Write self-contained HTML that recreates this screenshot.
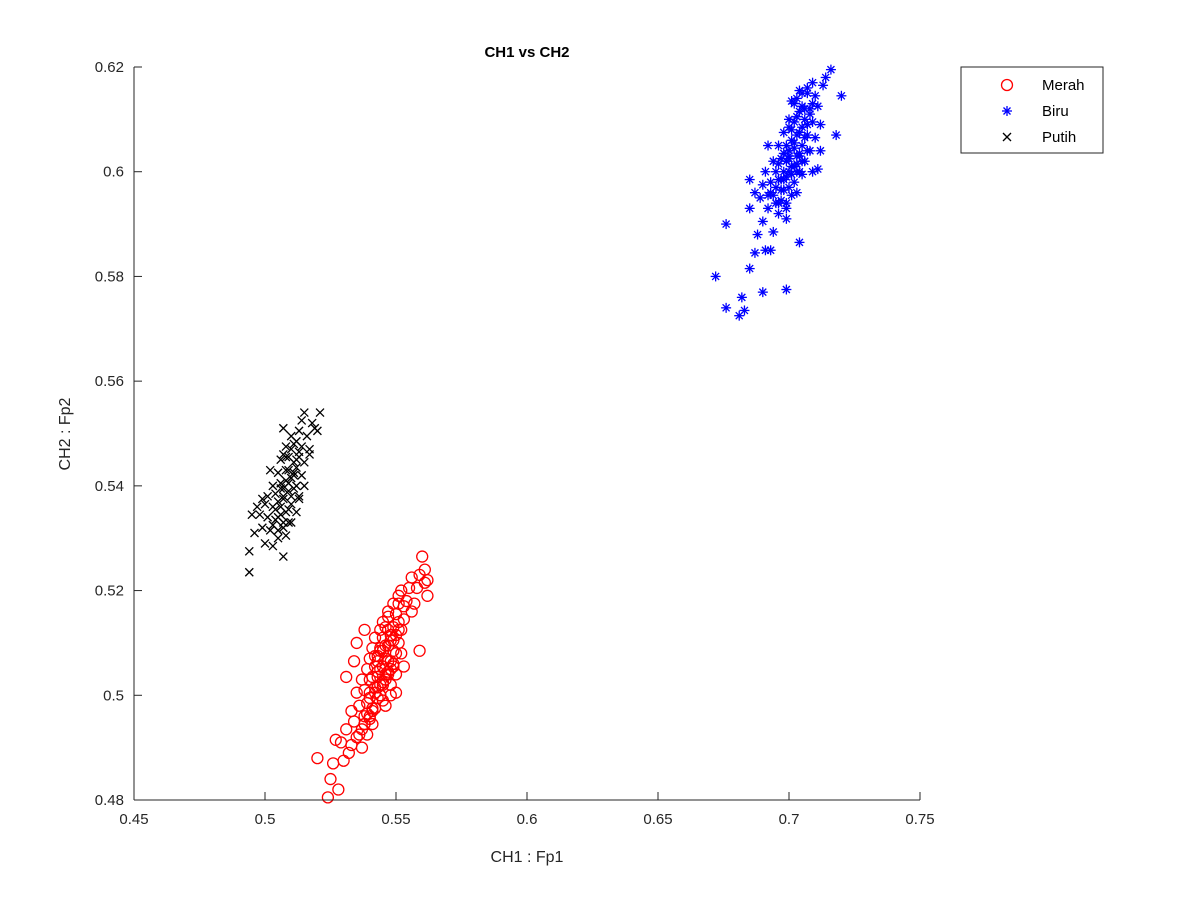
<!DOCTYPE html>
<html><head><meta charset="utf-8"><style>
html,body{margin:0;padding:0;background:#fff;}
svg{display:block;font-family:"Liberation Sans",Arial,sans-serif;}
</style></head><body>
<svg id="chart" width="1200" height="900" viewBox="0 0 1200 900" xmlns="http://www.w3.org/2000/svg">
<rect width="1200" height="900" fill="#fff"/>
<g id="plot"></g>
<g id="axes"></g>
<text x="527" y="57" text-anchor="middle" font-size="15" font-weight="bold" fill="#000">CH1 vs CH2</text>
<text x="527" y="862" text-anchor="middle" font-size="16" fill="#262626">CH1 : Fp1</text>
<text transform="translate(70,434) rotate(-90)" text-anchor="middle" font-size="16" fill="#262626">CH2 : Fp2</text>
<g>
<rect x="961" y="67" width="142" height="86" fill="#fff" stroke="#262626" stroke-width="1"/>
<circle cx="1007" cy="85" r="5.5" fill="none" stroke="#f00" stroke-width="1.3"/>
<text x="1042" y="90" font-size="15" fill="#000">Merah</text>
<g stroke="#00f" stroke-width="1.3"><line x1="1002" y1="111" x2="1012" y2="111"/><line x1="1007" y1="106" x2="1007" y2="116"/><line x1="1003.5" y1="107.5" x2="1010.5" y2="114.5"/><line x1="1003.5" y1="114.5" x2="1010.5" y2="107.5"/></g>
<text x="1042" y="116" font-size="15" fill="#000">Biru</text>
<g stroke="#000" stroke-width="1.3"><line x1="1003" y1="133" x2="1011" y2="141"/><line x1="1003" y1="141" x2="1011" y2="133"/></g>
<text x="1042" y="142" font-size="15" fill="#000">Putih</text>
</g>
</svg>
<script>
const xTicks=[0.45,0.5,0.55,0.6,0.65,0.7,0.75];
const xTickLabels=["0.45","0.5","0.55","0.6","0.65","0.7","0.75"];
const yTicks=[0.48,0.5,0.52,0.54,0.56,0.58,0.6,0.62];
const yTickLabels=["0.48","0.5","0.52","0.54","0.56","0.58","0.6","0.62"];
const merahX=[0.524,0.528,0.525,0.520,0.526,0.530,0.532,0.529,0.533,0.535,0.531,0.534,0.537,0.538,0.533,0.536,0.539,0.541,0.535,0.538,0.540,0.542,0.531,0.537,0.540,0.543,0.545,0.539,0.542,0.544,0.547,0.534,0.540,0.543,0.546,0.549,0.541,0.544,0.547,0.550,0.535,0.542,0.545,0.548,0.551,0.538,0.546,0.549,0.552,0.547,0.550,0.553,0.556,0.551,0.554,0.557,0.552,0.555,0.558,0.561,0.556,0.559,0.562,0.560,0.561,0.562,0.559,0.546,0.550,0.553,0.548,0.544,0.541,0.539,0.537,0.527,0.543,0.545,0.547,0.549,0.544,0.548,0.551,
0.541,0.543,0.545,0.547,0.549,0.542,0.544,0.546,0.548,0.550,0.543,0.545,0.547,0.549,0.551,0.540,0.542,0.544,0.546,0.548,0.539,0.541,0.543,0.545,0.538,0.540,0.542,0.544,0.546,0.548,0.550,0.552,0.545,0.547,0.549,0.551,0.553,0.536,0.538,0.540];
const merahY=[0.4805,0.482,0.484,0.488,0.487,0.4875,0.489,0.491,0.4905,0.492,0.4935,0.495,0.4935,0.496,0.497,0.498,0.4985,0.497,0.5005,0.501,0.5005,0.5015,0.5035,0.503,0.503,0.5035,0.502,0.505,0.5055,0.505,0.504,0.5065,0.507,0.5075,0.507,0.5055,0.509,0.509,0.5095,0.508,0.510,0.511,0.511,0.5115,0.510,0.5125,0.513,0.513,0.5125,0.515,0.5155,0.5145,0.516,0.5175,0.518,0.5175,0.520,0.5205,0.5205,0.5215,0.5225,0.523,0.522,0.5265,0.524,0.519,0.5085,0.498,0.5005,0.5055,0.502,0.500,0.4945,0.4925,0.490,0.4915,0.5065,0.5085,0.5125,0.5105,0.5125,0.5065,0.514,
0.5035,0.5045,0.5055,0.5065,0.5085,0.5075,0.5085,0.5095,0.5105,0.5115,0.5015,0.5025,0.5045,0.5060,0.5125,0.4995,0.5005,0.5020,0.5040,0.5050,0.4965,0.4975,0.4995,0.4990,0.4945,0.4955,0.4975,0.5000,0.5030,0.5000,0.5040,0.5080,0.5140,0.5160,0.5175,0.5190,0.5170,0.4925,0.4945,0.4960];
const biruX=[0.681,0.683,0.676,0.682,0.690,0.699,0.672,0.685,0.687,0.691,0.693,0.704,0.676,0.688,0.690,0.694,0.685,0.692,0.696,0.699,0.687,0.690,0.693,0.697,0.700,0.703,0.685,0.691,0.695,0.698,0.701,0.704,0.694,0.697,0.700,0.703,0.706,0.709,0.692,0.696,0.699,0.702,0.705,0.708,0.698,0.701,0.704,0.707,0.710,0.700,0.703,0.706,0.709,0.712,0.702,0.705,0.708,0.711,0.704,0.707,0.710,0.713,0.714,0.716,0.709,0.720,0.718,0.712,0.711,0.693,0.696,0.699,0.702,0.700,0.698,0.689,0.695,
0.697,0.699,0.701,0.703,0.705,0.696,0.698,0.700,0.702,0.704,0.706,0.699,0.701,0.703,0.705,0.707,0.700,0.702,0.704,0.706,0.708,0.701,0.703,0.705,0.707,0.709,0.694,0.696,0.698,0.700,0.702,0.704,0.703,0.705,0.707,0.695,0.697,0.699,0.701,0.692];
const biruY=[0.5725,0.5735,0.574,0.576,0.577,0.5775,0.580,0.5815,0.5845,0.585,0.585,0.5865,0.590,0.588,0.5905,0.5885,0.593,0.593,0.592,0.594,0.596,0.5975,0.596,0.5965,0.597,0.596,0.5985,0.600,0.600,0.600,0.5995,0.600,0.602,0.6025,0.6025,0.603,0.602,0.600,0.605,0.605,0.605,0.6055,0.605,0.604,0.6075,0.608,0.6075,0.607,0.6065,0.610,0.6105,0.610,0.6095,0.609,0.613,0.6125,0.612,0.6125,0.6155,0.615,0.6145,0.6165,0.618,0.6195,0.617,0.6145,0.607,0.604,0.6005,0.598,0.594,0.591,0.598,0.603,0.5965,0.595,0.597,
0.5985,0.5990,0.6010,0.6015,0.6020,0.6015,0.6035,0.6040,0.6045,0.6035,0.6065,0.6020,0.6060,0.6070,0.6085,0.6090,0.6085,0.6095,0.6115,0.6120,0.6110,0.6135,0.6140,0.6150,0.6160,0.6130,0.5955,0.5985,0.5985,0.6000,0.6010,0.6030,0.6000,0.5995,0.6040,0.5940,0.5945,0.5930,0.5955,0.5955];
const putihX=[0.494,0.494,0.507,0.500,0.503,0.496,0.499,0.502,0.505,0.508,0.495,0.498,0.501,0.504,0.507,0.510,0.497,0.500,0.503,0.506,0.509,0.512,0.501,0.504,0.507,0.510,0.513,0.503,0.506,0.509,0.512,0.505,0.508,0.511,0.514,0.506,0.509,0.512,0.515,0.508,0.511,0.514,0.517,0.510,0.513,0.516,0.519,0.507,0.514,0.518,0.521,0.515,0.520,0.517,0.515,0.513,0.507,0.502,0.499,0.505,
0.505,0.507,0.509,0.511,0.506,0.508,0.510,0.512,0.504,0.506,0.508,0.510,0.507,0.509,0.511,0.513,0.508,0.510,0.512,0.503,0.505,0.507,0.509,0.511,0.513];
const putihY=[0.5235,0.5275,0.5265,0.529,0.5285,0.531,0.532,0.5315,0.530,0.5305,0.5345,0.5345,0.534,0.5335,0.533,0.533,0.536,0.5365,0.536,0.536,0.5355,0.535,0.538,0.5385,0.538,0.538,0.5375,0.540,0.5405,0.5405,0.540,0.5425,0.543,0.5425,0.542,0.545,0.5455,0.545,0.5445,0.5475,0.548,0.5475,0.547,0.5495,0.5505,0.5495,0.551,0.551,0.5525,0.552,0.554,0.554,0.5505,0.546,0.540,0.538,0.546,0.543,0.5375,0.534,
0.5370,0.5375,0.5390,0.5395,0.5395,0.5410,0.5415,0.5435,0.5355,0.5345,0.5350,0.5365,0.5395,0.5430,0.5445,0.5455,0.5455,0.5470,0.5485,0.5325,0.5315,0.5320,0.5330,0.5420,0.5465];

const NS="http://www.w3.org/2000/svg";
const X0=134,X1=920,Y0=800,Y1=67;
const xs=v=>X0+(v-0.45)/(0.75-0.45)*(X1-X0);
const ys=v=>Y0-(v-0.48)/(0.62-0.48)*(Y0-Y1);
function mk(tag,attrs,parent){const e=document.createElementNS(NS,tag);for(const k in attrs)e.setAttribute(k,attrs[k]);parent.appendChild(e);return e;}
const plot=document.getElementById('plot'),axes=document.getElementById('axes');

let ax=mk('line',{x1:X0,y1:Y0,x2:X1,y2:Y0,stroke:'#262626','stroke-width':1},axes);


let ay=mk('line',{x1:X0,y1:Y0,x2:X0,y2:Y1,stroke:'#262626','stroke-width':1},axes);


xTicks.forEach((t,i)=>{const x=xs(t);
 const l=mk('line',{x1:x,y1:Y0,x2:x,y2:Y0-8,stroke:'#262626'},axes);
 
 
 const tx=mk('text',{x:x,y:Y0+24,'text-anchor':'middle','font-size':15,fill:'#262626'},axes);tx.textContent=xTickLabels[i];
 
 
});
yTicks.forEach((t,i)=>{const y=ys(t);
 const l=mk('line',{x1:X0,y1:y,x2:X0+8,y2:y,stroke:'#262626'},axes);
 
 
 const tx=mk('text',{x:X0-10,y:y+5,'text-anchor':'end','font-size':15,fill:'#262626'},axes);tx.textContent=yTickLabels[i];
 
 
});
merahX.forEach((v,i)=>{const c=mk('circle',{cx:xs(v),cy:ys(merahY[i]),r:5.5,fill:'none',stroke:'#f00','stroke-width':1.3},plot);
 
 
});
biruX.forEach((v,i)=>{const x=xs(v),y=ys(biruY[i]);const g=mk('g',{stroke:'#00f','stroke-width':1.3},plot);
 
 
 mk('line',{x1:x-5,y1:y,x2:x+5,y2:y},g);mk('line',{x1:x,y1:y-5,x2:x,y2:y+5},g);
 mk('line',{x1:x-3.5,y1:y-3.5,x2:x+3.5,y2:y+3.5},g);mk('line',{x1:x-3.5,y1:y+3.5,x2:x+3.5,y2:y-3.5},g);
});
putihX.forEach((v,i)=>{const x=xs(v),y=ys(putihY[i]);const g=mk('g',{stroke:'#000','stroke-width':1.3},plot);
 
 
 mk('line',{x1:x-4,y1:y-4,x2:x+4,y2:y+4},g);mk('line',{x1:x-4,y1:y+4,x2:x+4,y2:y-4},g);
});
</script>
</body></html>
